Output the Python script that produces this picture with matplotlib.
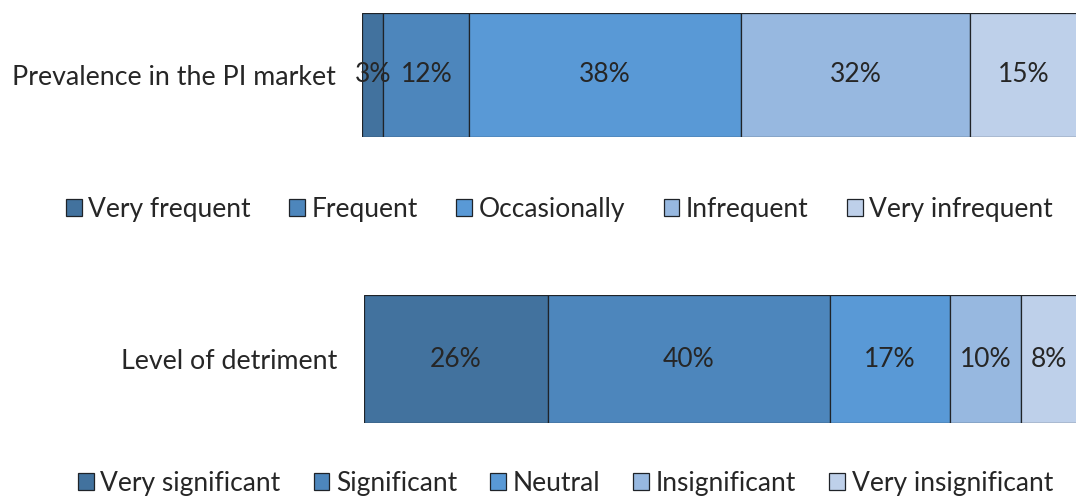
import matplotlib
matplotlib.use("Agg")
import matplotlib.pyplot as plt
from matplotlib.patches import Patch

plt.rcParams['font.family'] = ['Lato', 'DejaVu Sans']

# Survey results (percent of respondents)
prev_label = "Prevalence in the PI market"
prev_cats = ["Very frequent", "Frequent", "Occasionally", "Infrequent", "Very infrequent"]
prev_vals = [3, 12, 38, 32, 15]

detr_label = "Level of detriment"
detr_cats = ["Very significant", "Significant", "Neutral", "Insignificant", "Very insignificant"]
detr_vals = [26, 40, 17, 10, 8]

colors = ["#42729E", "#4D86BC", "#5999D6", "#97B8E0", "#BED0EA"]
edge = "#1f2328"
text_color = "#262626"
fs = 19

W, H = 1076, 498
fig = plt.figure(figsize=(W / 100, H / 100), dpi=100)


def draw_bar(ax, label, vals):
    left = 0
    for v, c in zip(vals, colors):
        ax.barh(0, v, left=left, height=1.0, color=c, edgecolor=edge, linewidth=0.9)
        ax.text(left + v / 2, 0, f"{v}%", ha="center", va="center",
                fontsize=fs, color=text_color)
        left += v
    ax.set_xlim(0, sum(vals))
    ax.set_ylim(-0.5, 0.5)
    ax.set_xticks([])
    ax.set_yticks([0])
    ax.set_yticklabels([label], fontsize=fs + 0.3, color=text_color)
    ax.tick_params(axis="y", length=0, pad=19)
    for s in ax.spines.values():
        s.set_visible(False)


def draw_legend(cats, y, x0, spacing):
    handles = [Patch(facecolor=c, edgecolor=edge, linewidth=0.9) for c in colors]
    fig.legend(handles, cats, loc="center left", bbox_to_anchor=(x0, y),
               ncol=5, frameon=False, fontsize=fs, handlelength=0.6,
               handleheight=0.6, handletextpad=0.25, columnspacing=spacing,
               labelcolor=text_color, borderaxespad=0, borderpad=0)


ax1 = fig.add_axes([362 / W, 1 - 137 / H, (1077 - 362) / W, 124 / H])
draw_bar(ax1, prev_label, prev_vals)

ax2 = fig.add_axes([364 / W, 1 - 423 / H, (1077 - 364) / W, 128 / H])
draw_bar(ax2, detr_label, detr_vals)

draw_legend(prev_cats, 1 - 209 / H, 66 / W, 1.45)
draw_legend(detr_cats, 1 - 483 / H, 78 / W, 1.25)

fig.savefig("out.png", dpi=100)
